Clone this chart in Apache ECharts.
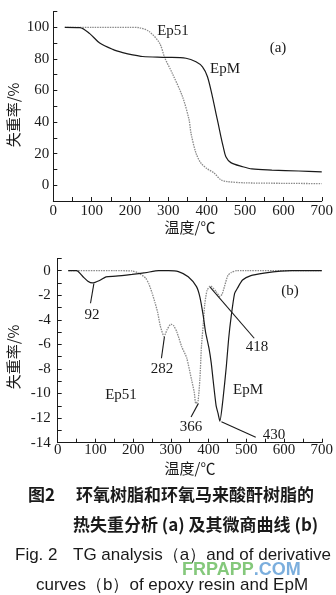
<!DOCTYPE html>
<html>
<head>
<meta charset="utf-8">
<script src="https://cdn.jsdelivr.net/npm/echarts@6/dist/echarts.min.js"></script>
<style>
  html, body { margin: 0; padding: 0; background: #fff; }
  #chart { width: 336px; height: 595px; }
</style>
</head>
<body>
<div id="chart"></div>
<script>
// TG curves (a): temperature (°C) and residual mass (%)
const tgEp51T = [30, 100, 200, 225, 250, 277, 291, 310, 337, 354, 359, 372, 385, 402, 419, 437, 453, 501, 600, 700];
const tgEp51V = [100, 100, 100, 99.7, 97.3, 90, 80.5, 71, 56, 41.5, 33, 20.4, 14, 10.3, 7.8, 3.4, 2.3, 1.5, 1.2, 1.0];
const tgEpMT = [30, 69, 95, 121, 155, 181, 207, 233, 294, 346, 372, 389, 402, 415, 424, 430, 437, 443, 450, 463, 493, 518, 570, 640, 700];
const tgEpMV = [100, 99.8, 96, 90, 86, 84, 82.5, 81.5, 81, 80.4, 78.2, 75, 68.7, 56, 45.7, 39, 30.8, 24.4, 18, 14.3, 11.8, 10.3, 9.6, 9, 8.5];

// DTG curves (b): temperature (°C) and derivative mass loss
const dtgEp51T = [28, 150, 197, 215, 233, 242, 250, 258, 265, 272, 282, 290, 300, 308, 316, 329, 342, 355, 362, 366, 372, 377, 381, 386, 390, 396, 405, 420, 430, 436, 442, 451, 460, 475, 700];
const dtgEp51V = [0, 0, -0.02, -0.2, -0.6, -1.1, -1.8, -2.6, -3.4, -4.5, -5.35, -4.8, -4.35, -4.5, -5.0, -6.2, -7.1, -8.9, -9.9, -10.8, -10.6, -8.8, -6.2, -4.3, -2.7, -1.6, -1.25, -1.7, -2.1, -1.9, -1.3, -0.4, -0.15, 0, 0];
const dtgEpMT = [28, 50, 67, 80, 92, 111, 128, 154, 197, 233, 268, 294, 320, 346, 368, 377, 386, 392, 401, 407, 412, 420, 425, 430, 438, 447, 453, 460, 469, 477, 490, 512, 547, 591, 620, 700];
const dtgEpMV = [0, 0, -0.49, -0.85, -1.0, -0.8, -0.5, -0.45, -0.3, -0.16, 0, 0, -0.08, -0.5, -1.3, -2.15, -3.7, -5.0, -6.3, -7.5, -8.9, -11.0, -11.6, -12.25, -10.5, -7.8, -5.6, -3.7, -1.85, -1.4, -0.76, -0.4, -0.2, -0.03, 0, 0];

// Peak temperatures marked on the DTG plot
const peakLabels = ['92', '282', '366', '418', '430'];
// Arrow start/end points in data units [T, value]
const peakArrows = [
  [[96, -1.03], [87, -2.65]],
  [[283, -5.37], [275, -7.13]],
  [[373, -10.8], [353.5, -11.9]],
  [[404, -1.33], [521, -5.5]],
  [[434, -12.29], [525, -13.56]]
];

const xTickStep = 50;
const tgYTickStep = 10;
const dtgYTickStep = 1;

const zip = (t, v) => t.map((x, i) => [x, v[i]]);

const serif = '"Liberation Serif", "DejaVu Serif", serif';
const cjk = '"Noto Sans CJK SC", sans-serif';
const sans = '"Liberation Sans", Arial, sans-serif';
const ink = '#1a1a1a';

function xAxisCfg(gridIndex, margin) {
  return {
    type: 'value', gridIndex, min: 0, max: 700, interval: xTickStep,
    axisLine: { show: true, onZero: false, lineStyle: { color: ink, width: 1 } },
    axisTick: { show: true, inside: true, length: 4, lineStyle: { color: ink } },
    axisLabel: {
      margin, color: ink, fontFamily: serif, fontSize: 15,
      formatter: v => (v % 100 === 0 ? String(v) : '')
    },
    splitLine: { show: false }
  };
}

function yAxisCfg(gridIndex, min, max, step, keep, margin) {
  return {
    type: 'value', gridIndex, min, max, interval: step,
    axisLine: { show: true, onZero: false, lineStyle: { color: ink, width: 1 } },
    axisTick: { show: true, inside: true, length: 4, lineStyle: { color: ink } },
    axisLabel: {
      margin, color: ink, fontFamily: serif, fontSize: 15,
      formatter: v => (keep(v) ? String(v) : '')
    },
    splitLine: { show: false }
  };
}

const txt = (x, y, text, extra) => ({
  type: 'text', x, y, silent: true,
  style: Object.assign({
    text, fill: ink, font: '15px ' + serif, align: 'center', verticalAlign: 'middle'
  }, extra || {})
});

const chart = echarts.init(document.getElementById('chart'), null, { renderer: 'canvas' });

// green/blue site mark under the caption
const markFont = 'bold 18px ' + sans;
const probe = new echarts.graphic.Text({ style: { text: 'FRPAPP', font: markFont } });
const markSplit = probe.getBoundingRect().width;

const axisTitleTG = txt(13, 115, '失重率/%', { font: '15px ' + cjk });
axisTitleTG.rotation = Math.PI / 2;
const axisTitleDTG = txt(13, 357, '失重率/%', { font: '15px ' + cjk });
axisTitleDTG.rotation = Math.PI / 2;

const option = {
  animation: false,
  backgroundColor: '#fff',
  grid: [
    { left: 53.3, top: 11.5, width: 269.7, height: 189.5 },
    { left: 57.7, top: 258.4, width: 267.3, height: 184.3 }
  ],
  xAxis: [xAxisCfg(0, 3), xAxisCfg(1, 0)],
  yAxis: [
    yAxisCfg(0, -10, 110, tgYTickStep, v => v >= 0 && v % 20 === 0, 4),
    yAxisCfg(1, -14, 1, dtgYTickStep, v => v <= 0 && v % 2 === 0, 7)
  ],
  series: [
    {
      name: 'Ep51', type: 'line', xAxisIndex: 0, yAxisIndex: 0,
      data: zip(tgEp51T, tgEp51V), showSymbol: false, smooth: 0.3,
      lineStyle: { color: '#8a8a8a', width: 1.3, type: [1.5, 1] }
    },
    {
      name: 'EpM', type: 'line', xAxisIndex: 0, yAxisIndex: 0,
      data: zip(tgEpMT, tgEpMV), showSymbol: false, smooth: 0.3,
      lineStyle: { color: ink, width: 1.2 }
    },
    {
      name: 'Ep51 DTG', type: 'line', xAxisIndex: 1, yAxisIndex: 1,
      data: zip(dtgEp51T, dtgEp51V), showSymbol: false, smooth: 0.2,
      lineStyle: { color: '#8a8a8a', width: 1.3, type: [1.5, 1] }
    },
    {
      name: 'EpM DTG', type: 'line', xAxisIndex: 1, yAxisIndex: 1,
      data: zip(dtgEpMT, dtgEpMV), showSymbol: false, smooth: 0.2,
      lineStyle: { color: ink, width: 1.2 },
      markLine: {
        silent: true, animation: false,
        symbol: ['none', 'arrow'], symbolSize: [0, 7],
        label: { show: false },
        lineStyle: { color: ink, width: 1.1, type: 'solid' },
        data: peakArrows.map(a => [{ coord: a[0] }, { coord: a[1] }])
      }
    }
  ],
  graphic: [
    // plot (a) annotations
    txt(173, 31, 'Ep51'),
    txt(225, 69, 'EpM'),
    txt(278, 48, '(a)'),
    axisTitleTG,
    txt(190, 227, '温度/℃', { font: '15px ' + cjk }),
    // plot (b) annotations
    txt(290, 291, '(b)'),
    txt(92, 315, peakLabels[0]),
    txt(162, 369, peakLabels[1]),
    txt(191, 427, peakLabels[2]),
    txt(257, 347, peakLabels[3]),
    txt(274, 435, peakLabels[4]),
    txt(248, 390, 'EpM'),
    txt(121, 395, 'Ep51'),
    axisTitleDTG,
    txt(190, 468, '温度/℃', { font: '15px ' + cjk }),
    // caption
    txt(28, 495, '图2', { font: 'bold 17px ' + cjk, align: 'left' }),
    txt(76, 495, '环氧树脂和环氧马来酸酐树脂的', { font: 'bold 17px ' + cjk, align: 'left' }),
    txt(73, 525, '热失重分析 (a) 及其微商曲线 (b)', { font: 'bold 17px ' + cjk, align: 'left' }),
    txt(15, 555, 'Fig. 2', { font: '17px ' + sans, align: 'left' }),
    txt(73, 555, 'TG analysis（a）and of derivative', { font: '17px ' + sans, align: 'left' }),
    txt(172, 585, 'curves（b）of epoxy resin and EpM', { font: '17px ' + sans }),
    txt(182, 570, 'FRPAPP', { font: markFont, align: 'left', fill: 'rgba(110,190,100,0.85)' }),
    txt(182 + markSplit, 570, '.COM', { font: markFont, align: 'left', fill: 'rgba(100,160,215,0.85)' })
  ]
};

chart.setOption(option);
</script>
</body>
</html>
